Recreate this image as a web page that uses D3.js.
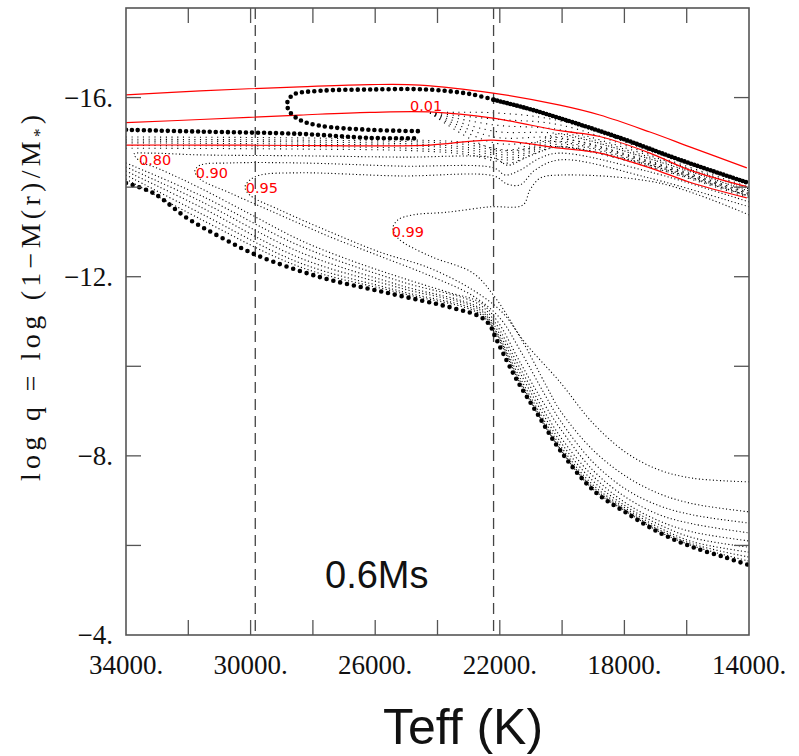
<html>
<head>
<meta charset="utf-8">
<style>
  body { margin: 0; background: white; }
  text { fill: #111; }
</style>
</head>
<body>
<svg width='799' height='756' style="background:white;"></svg>

<script src="https://d3js.org/d3.v7.min.js"></script>
<script>
// axis ticks
var teffLabels = [34000, 30000, 26000, 22000, 18000, 14000];
var teffTicks = [32000, 30000, 28000, 26000, 24000, 22000, 20000, 18000, 16000];
var logqLabels = [-16, -12, -8, -4];
var logqTicks = [-16, -14, -12, -10, -8, -6];
var dashedTeff = [29850, 22200];

// red reference lines [Teff, log q]
var redLine1 = [[34000,-16.06],[31620,-16.15],[28420,-16.24],[26170,-16.29],[24560,-16.28],[22220,-16.10],[20070,-15.83],[18790,-15.61],[17180,-15.23],[15900,-14.90],[14070,-14.43]];
var redLine2 = [[34000,-15.44],[31620,-15.51],[28420,-15.61],[26170,-15.67],[24240,-15.68],[22220,-15.54],[20070,-15.26],[18790,-15.13],[17180,-14.76],[15900,-14.38],[14070,-14.01]];
var redLine3 = [[34000,-14.94],[31620,-14.94],[28420,-14.93],[26170,-14.92],[24240,-14.94],[22220,-15.05],[20070,-14.87],[18790,-14.76],[17180,-14.43],[15900,-14.11],[14070,-13.76]];

// bold dotted tracks
var thickLoop = [[24630,-15.25],[26170,-15.28],[27770,-15.37],[28420,-15.50],[28740,-15.68],[28830,-15.86],[28640,-16.06],[27770,-16.15],[26170,-16.18],[24340,-16.18],[22960,-16.08],[22190,-15.95]];
var thickDescent = [[22190,-15.95],[21130,-15.76],[20070,-15.54],[18140,-15.10],[16220,-14.61],[14000,-14.09]];
var thickRow = [[34000,-15.28],[31620,-15.24],[28420,-15.19],[26170,-15.10],[24630,-15.09]];
var thickEdge = [[34000,-14.09],[33130,-13.87],[32040,-13.31],[30980,-12.89],[29800,-12.48],[27770,-11.99],[25620,-11.64],[23500,-11.30],[22640,-11.11],[22320,-10.92],[22160,-10.68],[21900,-10.30],[21450,-9.69],[20810,-8.96],[20070,-8.13],[19010,-7.24],[17920,-6.72],[16860,-6.28],[15800,-5.96],[14710,-5.72],[14000,-5.56]];

// labelled mass fraction curves
var curve080 = [[14000,-13.80],[17180,-14.49],[20070,-14.90],[20550,-14.83],[21190,-14.65],[21740,-14.49],[22190,-14.65],[25210,-14.67],[28420,-14.70],[31620,-14.72],[33230,-14.76],[33740,-14.74],[33550,-14.58],[32910,-14.40],[31620,-13.98],[30020,-13.40],[28420,-12.82],[26810,-12.37],[25210,-11.99],[23600,-11.64],[22640,-11.43],[22060,-10.99],[21350,-10.09],[20550,-9.13],[20070,-8.62],[19010,-7.68],[17920,-7.06],[16860,-6.68],[15800,-6.48],[14000,-6.28]];
var curve090 = [[14000,-13.67],[17180,-14.34],[20070,-14.76],[20710,-14.65],[21350,-14.38],[21830,-14.27],[22190,-14.43],[25210,-14.47],[28420,-14.54],[30660,-14.54],[31620,-14.49],[31790,-14.36],[31620,-14.18],[30660,-13.87],[29060,-13.38],[27450,-12.89],[25850,-12.46],[24240,-12.02],[22860,-11.57],[22000,-11.08],[21350,-10.36],[20550,-9.36],[20070,-8.80],[19010,-7.86],[17920,-7.24],[16860,-6.88],[15800,-6.68],[14000,-6.50]];
var curve095 = [[14000,-13.56],[17180,-14.20],[20070,-14.61],[20870,-14.38],[21350,-14.05],[21770,-14.07],[22190,-14.25],[25210,-14.25],[28420,-14.32],[29700,-14.27],[30020,-14.16],[30180,-14.00],[30020,-13.82],[29060,-13.49],[27450,-13.00],[25850,-12.55],[24240,-12.19],[22860,-11.70],[21900,-11.19],[21350,-10.65],[20490,-9.54],[20070,-9.02],[19010,-8.13],[17920,-7.53],[16860,-7.15],[15800,-6.93],[14000,-6.75]];
var curve099 = [[14000,-13.38],[16860,-14.09],[20070,-14.27],[20710,-14.20],[21030,-13.94],[21260,-13.60],[22320,-13.56],[23700,-13.44],[24790,-13.38],[25270,-13.27],[25430,-13.09],[25270,-12.86],[24240,-12.46],[22860,-12.08],[22090,-11.48],[21260,-10.59],[20070,-9.65],[19010,-8.73],[17920,-8.06],[16860,-7.68],[15800,-7.50],[14000,-7.42]];

// unlabelled curves between 0.80 and the lower edge
var edgeTeff = [34000, 31620, 28420, 25210, 22640, 22160, 21350, 20070, 19010, 17920, 16860, 15800, 14000];
var edgeFan1 = [-14.54,-13.82,-12.69,-11.90,-11.37,-10.99,-9.96,-8.44,-7.55,-6.93,-6.54,-6.30,-6.10];
var edgeFan2 = [-14.45,-13.69,-12.55,-11.81,-11.30,-10.90,-9.85,-8.33,-7.44,-6.86,-6.46,-6.17,-5.96];
var edgeFan3 = [-14.36,-13.56,-12.42,-11.75,-11.26,-10.83,-9.74,-8.24,-7.35,-6.81,-6.39,-6.08,-5.85];
var edgeFan4 = [-14.27,-13.42,-12.31,-11.68,-11.21,-10.80,-9.67,-8.17,-7.30,-6.77,-6.34,-6.03,-5.74];
var edgeFan5 = [-14.18,-13.29,-12.22,-11.64,-11.17,-10.75,-9.63,-8.15,-7.26,-6.75,-6.30,-5.99,-5.65];

// dense band, left part (runs across the whole range)
var bandTeff = [34000, 28420, 24630, 22960, 22190, 21670, 20870, 20070, 17180, 14000];
var band1 = [-15.12,-15.10,-15.05,-14.99,-14.87,-14.83,-14.99,-15.19,-14.67,-13.96];
var band2 = [-15.07,-15.05,-15.01,-14.94,-14.82,-14.77,-14.94,-15.13,-14.63,-13.91];
var band3 = [-15.03,-15.01,-14.96,-14.88,-14.76,-14.72,-14.90,-15.07,-14.58,-13.87];
var band4 = [-14.99,-14.96,-14.92,-14.83,-14.71,-14.66,-14.85,-15.02,-14.54,-13.82];
var band5 = [-14.93,-14.91,-14.86,-14.77,-14.65,-14.61,-14.81,-14.96,-14.49,-13.79];
var band6 = [-14.87,-14.85,-14.81,-14.72,-14.59,-14.54,-14.76,-14.91,-14.45,-13.76];

// fan starting at the 0.01 point
var fanTeff = [24240, 22190, 20070, 17180, 14000];
var fan1 = [-15.66,-15.66,-15.48,-14.81,-14.05];
var fan2 = [-15.66,-15.52,-15.39,-14.74,-14.00];
var fan3 = [-15.66,-15.39,-15.28,-14.70,-13.96];
var fan4 = [-15.66,-15.25,-15.19,-14.63,-13.91];
var fan5 = [-15.66,-15.12,-15.10,-14.56,-13.87];
var fan6 = [-15.66,-14.99,-15.01,-14.52,-13.85];
var fan7 = [-15.66,-14.85,-14.90,-14.45,-13.80];

// curve labels
var fracNames = ['0.80', '0.90', '0.95', '0.01', '0.99'];
var fracTeff = [33583, 31763, 30158, 24884, 25471];
var fracLogq = [-14.49, -14.20, -13.87, -15.71, -12.89];

var svg = d3.select('svg');
var x = d3.scaleLinear().domain([34000, 14000]).range([126, 749]);
var y = d3.scaleLinear().domain([-18, -4]).range([8, 635]);

function pairs(ts, qs) {
    return ts.map(function(t, i) { return [t, qs[i]]; });
}

var line = d3.line()
    .x(d => x(d[0]))
    .y(d => y(d[1]))
    .curve(d3.curveCatmullRom.alpha(0.5));

svg.append('clipPath').attr('id', 'plotclip')
    .append('rect')
    .attr('x', x(34000)).attr('y', y(-18))
    .attr('width', x(14000) - x(34000)).attr('height', y(-4) - y(-18));

var plot = svg.append('g').attr('clip-path', 'url(#plotclip)');

// thin dotted curves
var denseCurves = [band1, band2, band3, band4, band5, band6].map(b => pairs(bandTeff, b))
    .concat([fan1, fan2, fan3, fan4, fan5, fan6, fan7].map(f => pairs(fanTeff, f)));
plot.selectAll('.dense')
    .data(denseCurves)
    .enter().append('path')
    .attr('class', 'dense')
    .attr('d', line)
    .attr('fill', 'none')
    .attr('stroke', '#000')
    .attr('stroke-width', 1.1)
    .attr('stroke-dasharray', '1.1,4.6');

var thinCurves = [curve080, curve090, curve095, curve099]
    .concat([edgeFan1, edgeFan2, edgeFan3, edgeFan4, edgeFan5].map(e => pairs(edgeTeff, e)));
plot.selectAll('.thin')
    .data(thinCurves)
    .enter().append('path')
    .attr('class', 'thin')
    .attr('d', line)
    .attr('fill', 'none')
    .attr('stroke', '#000')
    .attr('stroke-width', 1.1)
    .attr('stroke-dasharray', '1.1,2.4');

// dashed verticals
plot.selectAll('.vdash')
    .data(dashedTeff)
    .enter().append('line')
    .attr('x1', d => x(d)).attr('x2', d => x(d))
    .attr('y1', y(-18)).attr('y2', y(-4))
    .attr('stroke', '#444')
    .attr('stroke-width', 1.3)
    .attr('stroke-dasharray', '11,6');

// red lines
plot.selectAll('.red')
    .data([redLine1, redLine2, redLine3])
    .enter().append('path')
    .attr('d', line)
    .attr('fill', 'none')
    .attr('stroke', '#f00')
    .attr('stroke-width', 1.2);

// bold dotted tracks
var bold = [
    {pts: thickLoop, dash: '0,6.2', w: 4.6},
    {pts: thickRow, dash: '0,6', w: 4.6},
    {pts: thickDescent, dash: '0,3.4', w: 4.6},
    {pts: thickEdge, dash: '0,7', w: 4.6}
];
plot.selectAll('.bold')
    .data(bold)
    .enter().append('path')
    .attr('d', d => line(d.pts))
    .attr('fill', 'none')
    .attr('stroke', '#000')
    .attr('stroke-width', d => d.w)
    .attr('stroke-linecap', 'round')
    .attr('stroke-dasharray', d => d.dash);

// curve labels
svg.selectAll('.frac')
    .data(fracNames)
    .enter().append('text')
    .attr('x', (d, i) => x(fracTeff[i]))
    .attr('y', (d, i) => y(fracLogq[i]))
    .attr('font-family', 'DejaVu Sans')
    .attr('font-size', 14.5)
    .style('fill', '#f00')
    .text(d => d);

// frame
var axisColor = '#555';
svg.append('rect')
    .attr('x', x(34000)).attr('y', y(-18))
    .attr('width', x(14000) - x(34000)).attr('height', y(-4) - y(-18))
    .attr('fill', 'none')
    .attr('stroke', axisColor)
    .attr('stroke-width', 1.6);

var tickLen = 15;
teffTicks.forEach(function(t) {
    svg.append('line').attr('x1', x(t)).attr('x2', x(t))
        .attr('y1', y(-4)).attr('y2', y(-4) - tickLen)
        .attr('stroke', axisColor).attr('stroke-width', 1.3);
    svg.append('line').attr('x1', x(t)).attr('x2', x(t))
        .attr('y1', y(-18)).attr('y2', y(-18) + tickLen)
        .attr('stroke', axisColor).attr('stroke-width', 1.3);
});
logqTicks.forEach(function(q) {
    svg.append('line').attr('x1', x(34000)).attr('x2', x(34000) + tickLen)
        .attr('y1', y(q)).attr('y2', y(q))
        .attr('stroke', axisColor).attr('stroke-width', 1.3);
    svg.append('line').attr('x1', x(14000)).attr('x2', x(14000) - tickLen)
        .attr('y1', y(q)).attr('y2', y(q))
        .attr('stroke', axisColor).attr('stroke-width', 1.3);
});

// tick labels
svg.selectAll('.xl')
    .data(teffLabels)
    .enter().append('text')
    .attr('x', d => x(d))
    .attr('y', 674)
    .attr('text-anchor', 'middle')
    .attr('font-family', 'Liberation Serif')
    .attr('font-size', 27)
    .text(d => d + '.');

svg.selectAll('.yl')
    .data(logqLabels)
    .enter().append('text')
    .attr('x', 113)
    .attr('y', d => y(d))
    .attr('dy', '0.34em')
    .attr('text-anchor', 'end')
    .attr('font-family', 'Liberation Serif')
    .attr('font-size', 27)
    .text(d => '\u2212' + Math.abs(d) + '.');

// axis titles
var ylab = svg.append('text')
    .attr('transform', 'translate(40,298) rotate(-90)')
    .attr('text-anchor', 'middle')
    .attr('font-family', 'Liberation Serif')
    .attr('font-size', 28)
    .attr('textLength', 366)
    .attr('lengthAdjust', 'spacing');
ylab.append('tspan').text('log q = log (1\u2212M(r)/M');
ylab.append('tspan').attr('font-size', 17).attr('dy', 5).text('*');
ylab.append('tspan').attr('dy', -5).text(')');

svg.append('text')
    .attr('x', 463)
    .attr('y', 744)
    .attr('text-anchor', 'middle')
    .attr('font-family', 'Liberation Sans')
    .attr('font-size', 50)
    .text('Teff (K)');

svg.append('text')
    .attr('x', 325)
    .attr('y', 588)
    .attr('font-family', 'Liberation Sans')
    .attr('font-size', 38)
    .text('0.6Ms');
</script>
</body>
</html>
